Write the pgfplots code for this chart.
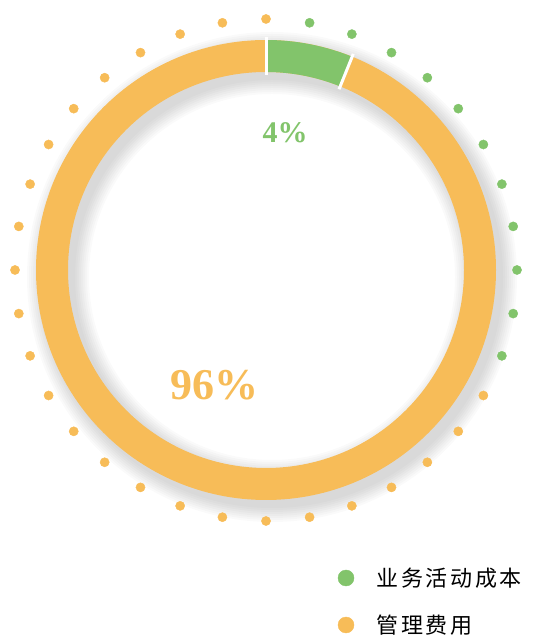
\documentclass[border=0pt]{standalone}
\usepackage{pgfplots}
\pgfplotsset{compat=1.18}
\usepackage{fontspec}
\setmainfont{Liberation Serif}
\newfontfamily\cjk{Noto Sans CJK SC}[LetterSpace=12]
\definecolor{cgreen}{HTML}{82C46B}
\definecolor{corange}{HTML}{F7BC58}
\begin{document}
\begin{tikzpicture}
\begin{axis}[
  x=1pt, y=1pt,
  xmin=-266, xmax=270, ymin=-369, ymax=270,
  hide axis, clip=false, scale only axis,
]
\path (axis cs:-266,-369) rectangle (axis cs:270,270);
% soft drop shadow of the ring
\pgfplotsinvokeforeach{62,58,54,50,46,42,38,34}{
  \draw[black, opacity=0.018, line width=#1pt] (axis cs:6,-7) circle[radius=214pt];
}
% ring segments: green 90 -> 68 degrees, orange the rest
\begin{scope}[shift={(axis cs:0,0)}]
\fill[corange] (90:230pt) arc[start angle=90, end angle=-270, radius=230pt]
   -- (-270:198pt) arc[start angle=-270, end angle=90, radius=198pt] -- cycle;
\fill[cgreen] (90:230pt) arc[start angle=90, end angle=68, radius=230pt]
   -- (68:198pt) arc[start angle=68, end angle=90, radius=198pt] -- cycle;
\draw[white, line width=3pt] (90:195pt) -- (90:233pt);
\draw[white, line width=3pt] (68:195pt) -- (68:233pt);
\end{scope}
% outer dots
\addplot[data cs=polar, only marks, mark=*, mark size=4.6pt, color=cgreen]
  coordinates {(80,251) (70,251) (60,251) (50,251) (40,251) (30,251) (20,251) (10,251) (0,251) (-10,251) (-20,251)};
\addplot[data cs=polar, only marks, mark=*, mark size=4.6pt, color=corange]
  coordinates {(90,251) (-30,251) (-40,251) (-50,251) (-60,251) (-70,251) (-80,251) (-90,251) (-100,251) (-110,251) (-120,251) (-130,251) (-140,251) (-150,251) (-160,251) (-170,251) (-180,251) (-190,251) (-200,251) (-210,251) (-220,251) (-230,251) (-240,251) (-250,251) (-260,251)};
% percentage labels
\node[text=cgreen, font=\fontsize{30}{30}\selectfont\bfseries] at (axis cs:19,137) {4\%};
\node[text=corange, font=\fontsize{44}{44}\selectfont\bfseries] at (axis cs:-52,-115) {96\%};
% legend
\addplot[only marks, mark=*, mark size=8pt, color=cgreen] coordinates {(80,-308)};
\addplot[only marks, mark=*, mark size=8pt, color=corange] coordinates {(80,-355)};
\node[anchor=west, font=\fontsize{22}{22}\selectfont\cjk] at (axis cs:107,-308) {业务活动成本};
\node[anchor=west, font=\fontsize{22}{22}\selectfont\cjk] at (axis cs:107,-355) {管理费用};
\end{axis}
\end{tikzpicture}
\end{document}
